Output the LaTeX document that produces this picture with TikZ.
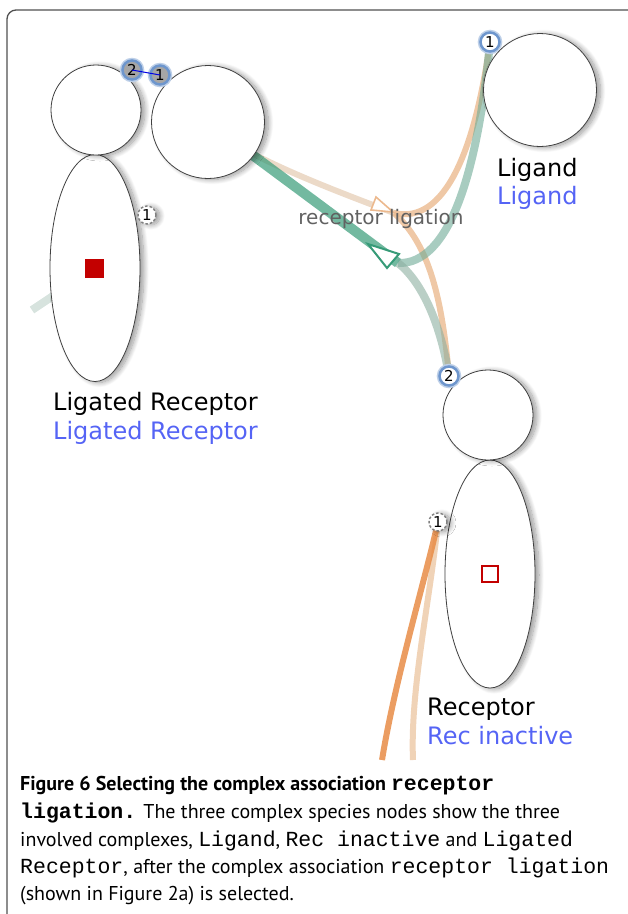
\documentclass[tikz,border=0pt]{standalone}
\usepackage{fontspec}
\setmainfont{DejaVu Sans}
\newfontfamily\capfont{PT Sans}
\newfontfamily\capmono{Liberation Mono}
\usetikzlibrary{shapes.geometric,shadows.blur}
\pgfdeclarelayer{bg}
\pgfsetlayers{bg,main}
\definecolor{lblue}{RGB}{85,100,245}
\definecolor{ring}{RGB}{110,150,205}
\definecolor{teal1}{RGB}{55,155,120}
\definecolor{teal2}{RGB}{110,170,150}
\definecolor{teal3}{RGB}{140,175,160}
\definecolor{beige1}{RGB}{236,218,200}
\definecolor{orange1}{RGB}{236,190,150}
\definecolor{orange2}{RGB}{232,140,70}
\definecolor{orange3}{RGB}{236,200,165}
\definecolor{dred}{RGB}{195,0,0}
\definecolor{framec}{RGB}{80,80,80}
\tikzset{
  cshadow/.style={blur shadow={shadow xshift=4pt,shadow yshift=-1pt,shadow opacity=40,shadow blur radius=5pt,shadow blur steps=12}},
  cplx/.style={circle,draw=black!75,line width=0.8pt,fill=white,inner sep=0pt,cshadow},
  cbody/.style={ellipse,draw=black!75,line width=0.8pt,fill=white,inner sep=0pt,cshadow},
  site/.style={circle,draw=ring,line width=2.5pt,inner sep=0pt,minimum size=19pt,font=\fontsize{15}{15}\selectfont,preaction={draw=ring!45,line width=5.5pt}},
  dsite/.style={circle,draw=black!50,dashed,dash pattern=on 2.5pt off 2pt,line width=1.4pt,fill=white,inner sep=0pt,minimum size=18pt,font=\fontsize{15}{15}\selectfont,cshadow},
  lbl/.style={anchor=base west,inner sep=0pt,font=\fontsize{24}{24}\selectfont},
  edgeline/.style={line cap=butt},
  capline/.style={anchor=base west,inner sep=0pt,font=\capfont\fontsize{20}{22}\selectfont},
}
\newcommand{\cm}[1]{{\capmono\fontsize{21.5}{22}\selectfont #1}}
\begin{document}
\begin{tikzpicture}[x=1pt,y=-1pt]
\useasboundingbox (0,0) rectangle (628,914);
\draw[framec,line width=1.3pt,rounded corners=9pt] (7,960) -- (7,10) -- (680,10);

% Ligated Receptor complex
\node[cbody,minimum width=90pt,minimum height=227pt] (lrC) at (95,268) {};
\node[cplx,minimum size=90pt] (lrA) at (96,110) {};
\node[cplx,minimum size=113pt] (lrB) at (208,122) {};
\node[fill=dred,minimum size=19pt,inner sep=0pt] (lrsq) at (94,268) {};
\node[site,fill=black!35] (ls2) at (132,70) {2};
\node[site,fill=black!35] (ls1) at (160,75) {1};
\draw[blue!90!black,line width=1pt] (ls2.center) -- (ls1.center);
\node[dsite] (lsd) at (147,215) {1};
\node[lbl] (lrt1) at (53,410) {Ligated Receptor};
\node[lbl,text=lblue] (lrt2) at (53,439) {Ligated Receptor};

% Ligand
\node[cplx,minimum size=113pt] (lig) at (540,90) {};
\node[site,fill=white] (lgs1) at (490,42) {1};
\node[lbl] (lgt1) at (497,176) {Ligand};
\node[lbl,text=lblue] (lgt2) at (497,204) {Ligand};

% Receptor
\node[cbody,minimum width=90pt,minimum height=228pt] (rcB) at (490,574) {};
\node[cplx,minimum size=90pt] (rcA) at (488,415) {};
\node[draw=dred,line width=1.6pt,fill=white,minimum size=16pt,inner sep=0pt] (rcsq) at (490,574) {};
\node[site,fill=white] (rs2) at (449,376) {2};
\node[dsite] (rs1) at (438,522) {1};
\node[lbl] (rct1) at (427,715) {Receptor};
\node[lbl,text=lblue] (rct2) at (427,744) {Rec inactive};

% reaction
\coordinate (jo) at (394,213);
\coordinate (jg) at (398,263);
\coordinate (gfrag) at (32,310);
\coordinate (ob1) at (382,760);
\coordinate (ob2) at (413,760);

\begin{pgfonlayer}{bg}
  \draw[edgeline,teal3,line width=8pt,opacity=0.35] (lrC.center) -- (gfrag);
  \draw[edgeline,beige1,line width=6pt] (lrB.-35) .. controls (300,178) and (360,200) .. (jo);
  \draw[edgeline,orange1,line width=6pt,opacity=0.85] (jo) .. controls (445,225) and (475,150) .. (lgs1.center);
  \draw[edgeline,orange1,line width=6pt,opacity=0.85] (jo) .. controls (430,245) and (442,300) .. (rs2.center);
  \draw[edgeline,teal1,line width=10pt,opacity=0.7] (lrB.center) -- (jg);
  \draw[edgeline,teal2,line width=8pt,opacity=0.6] (jg) .. controls (450,265) and (478,170) .. (lgs1.center);
  \draw[edgeline,teal3,line width=8pt,opacity=0.6] (jg) .. controls (420,280) and (440,320) .. (rs2.center);
  \draw[edgeline,orange3,line width=6pt,opacity=0.8] (rs1.center) .. controls (430,600) and (410,690) .. (ob2);
  \draw[edgeline,orange2,line width=6pt,opacity=0.85] (rs1.center) .. controls (425,580) and (395,680) .. (ob1);
\end{pgfonlayer}
% arrowheads
\draw[orange1!90!orange2,line width=1.6pt,fill=white,line join=miter] (393,212) -- (376,197) -- (371,210) -- cycle;
\draw[teal1,line width=2pt,fill=white,line join=miter] (368,244) -- (399,254) -- (387,268) -- cycle;
\node[anchor=base,inner sep=0pt,text=black!62,font=\fontsize{20}{20}\selectfont] (rl) at (381,224) {receptor ligation};

% caption
\node[capline] (c1) at (20,790) {\bfseries Figure 6 Selecting the complex association \cm{\bfseries receptor}};
\node[capline] (c2) at (20,818) {\cm{\bfseries ligation.} The three complex species nodes show the three};
\node[capline] (c3) at (20,846) {involved complexes, \cm{Ligand}, \cm{Rec inactive} and \cm{Ligated}};
\node[capline] (c4) at (20,873) {\cm{Receptor}, after the complex association \cm{receptor ligation}};
\node[capline] (c5) at (20,900) {(shown in Figure 2a) is selected.};
\end{tikzpicture}
\end{document}
